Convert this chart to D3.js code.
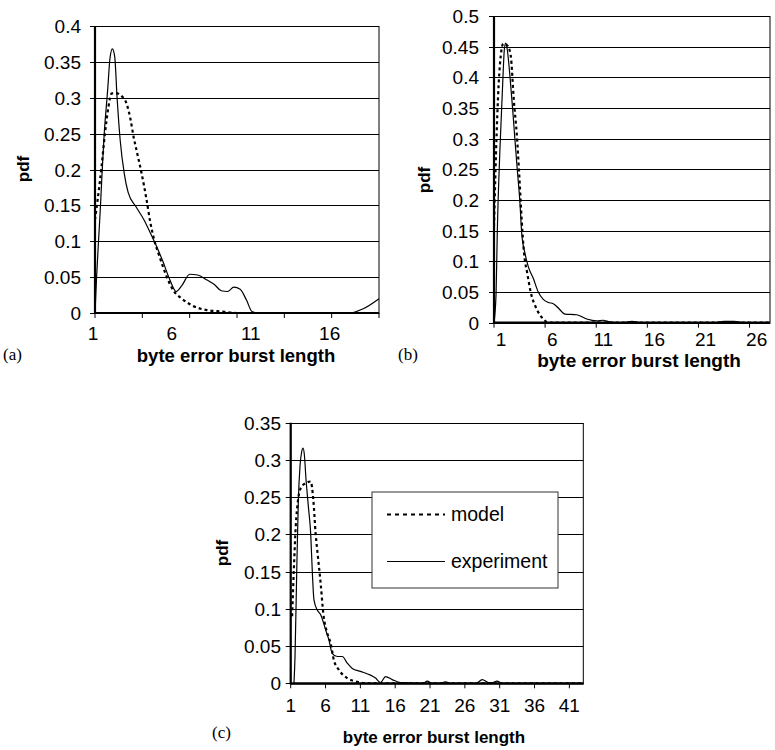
<!DOCTYPE html>
<html>
<head>
<meta charset="utf-8">
<script src="https://cdnjs.cloudflare.com/ajax/libs/d3/7.8.5/d3.min.js"></script>
<style>
  body { margin: 0; background: #fff; }
  svg { display: block; }
  text { font-family: "Liberation Sans", Arial, sans-serif; fill: #000; }
</style>
</head>
<body>
<div id="chart"></div>
<script>
// ---- panel (a) data ----
const aModelX = [1, 1.15, 1.42, 1.63, 1.85, 2.06, 2.4, 2.7, 3.0, 3.25, 3.45, 3.65, 3.95, 4.25, 4.5, 4.75, 5.1, 5.5, 5.95, 6.5, 7.2, 8.1, 9.1, 10, 19];
const aModelY = [0.13, 0.155, 0.205, 0.25, 0.287, 0.306, 0.306, 0.302, 0.292, 0.27, 0.245, 0.225, 0.195, 0.16, 0.127, 0.102, 0.078, 0.053, 0.032, 0.02, 0.01, 0.004, 0.002, 0, 0];
const aExpX = [1, 1.1, 1.3, 1.6, 1.8, 1.95, 2.1, 2.25, 2.4, 2.6, 2.85, 3.1, 3.6, 4.1, 4.5, 4.9, 5.3, 5.75, 6.15, 6.5, 7.0, 7.5, 8.1, 8.6, 9.0, 9.4, 9.8, 10.2, 10.6, 10.95, 11.3, 17.1, 18, 19];
const aExpY = [0, 0.05, 0.13, 0.255, 0.31, 0.355, 0.368, 0.357, 0.3, 0.24, 0.195, 0.168, 0.148, 0.13, 0.112, 0.093, 0.072, 0.046, 0.03, 0.038, 0.054, 0.053, 0.046, 0.039, 0.031, 0.03, 0.036, 0.033, 0.018, 0.002, 0, 0, 0.006, 0.02];
const aYTicks = [0, 0.05, 0.1, 0.15, 0.2, 0.25, 0.3, 0.35, 0.4];
const aXLabels = [1, 6, 11, 16];
const aXTickMarks = [1, 4, 7, 10, 13, 16, 19];

// ---- panel (b) data ----
const bModelX = [0.5, 0.76, 1.02, 1.41, 1.8, 2.13, 2.46, 2.72, 2.98, 3.21, 3.44, 3.76, 4.09, 4.68, 5.32, 5.81, 27.5];
const bModelY = [0.157, 0.309, 0.407, 0.455, 0.452, 0.436, 0.358, 0.309, 0.238, 0.167, 0.113, 0.08, 0.05, 0.022, 0.006, 0, 0];
const bExpX = [0.5, 0.7, 0.82, 1.09, 1.35, 1.51, 1.64, 1.8, 2.07, 2.33, 2.55, 2.78, 3.04, 3.21, 3.53, 3.86, 4.35, 4.83, 5.32, 5.81, 6.3, 6.79, 7.45, 8.59, 9.57, 10.55, 11.17, 11.85, 13, 14, 15, 22, 23, 24, 25, 27.5];
const bExpY = [0, 0.046, 0.146, 0.287, 0.39, 0.445, 0.456, 0.445, 0.4, 0.347, 0.298, 0.249, 0.195, 0.146, 0.113, 0.091, 0.072, 0.05, 0.038, 0.033, 0.031, 0.024, 0.014, 0.013, 0.006, 0.003, 0.004, 0.001, 0, 0.002, 0, 0, 0.002, 0.002, 0, 0];
const bYTicks = [0, 0.05, 0.1, 0.15, 0.2, 0.25, 0.3, 0.35, 0.4, 0.45, 0.5];
const bXLabels = [1, 6, 11, 16, 21, 26];
const bXTickMarks = [0.5, 5.5, 10.5, 15.5, 20.5, 25.5];

// ---- panel (c) data ----
const cModelX = [1.2, 1.47, 1.72, 2.05, 2.43, 3.0, 3.87, 4.25, 4.58, 4.91, 5.3, 5.68, 6.26, 6.73, 7.2, 7.92, 9.12, 10.56, 12, 43];
const cModelY = [0.09, 0.157, 0.21, 0.246, 0.262, 0.268, 0.271, 0.246, 0.201, 0.17, 0.134, 0.094, 0.067, 0.054, 0.031, 0.018, 0.007, 0.002, 0, 0];
const cExpX = [1.47, 1.62, 1.86, 2.1, 2.33, 2.58, 2.76, 2.96, 3.19, 3.54, 3.87, 4.11, 4.34, 4.83, 5.3, 6.01, 6.49, 6.97, 7.69, 8.41, 9.12, 9.84, 11.03, 12.46, 13.18, 13.9, 14.61, 15.57, 16.76, 20, 20.6, 21.3, 22.5, 23.2, 24, 27.6, 28.5, 29.4, 30, 30.6, 31.4, 33, 43];
const cExpY = [0, 0.036, 0.148, 0.246, 0.291, 0.311, 0.316, 0.307, 0.275, 0.237, 0.201, 0.148, 0.112, 0.098, 0.092, 0.072, 0.058, 0.04, 0.036, 0.036, 0.027, 0.02, 0.016, 0.011, 0.007, 0.001, 0.009, 0.005, 0.001, 0, 0.003, 0, 0, 0.002, 0, 0, 0.005, 0.001, 0.001, 0.003, 0, 0, 0];
const cYTicks = [0, 0.05, 0.1, 0.15, 0.2, 0.25, 0.3, 0.35];
const cXLabels = [1, 6, 11, 16, 21, 26, 31, 36, 41];
const cXTickMarks = [1, 6, 11, 16, 21, 26, 31, 36, 41];

const seriesNames = ['model', 'experiment'];

const svg = d3.select('#chart').append('svg')
  .attr('width', 775)
  .attr('height', 750);

function drawPanel(p) {
  const x = d3.scaleLinear().domain(p.xDomain).range([p.left, p.right]);
  const y = d3.scaleLinear().domain([0, p.yMax]).range([p.bottom, p.top]);
  const g = svg.append('g');
  const clipId = 'clip-' + p.tag;

  g.append('clipPath').attr('id', clipId)
    .append('rect')
    .attr('x', p.left).attr('y', p.top - 2)
    .attr('width', p.right - p.left + 1).attr('height', p.bottom - p.top + 2);

  // horizontal gridlines
  g.selectAll('line.grid').data(p.yTicks).join('line')
    .attr('x1', p.left).attr('x2', p.right)
    .attr('y1', d => Math.round(y(d)) + 0.5).attr('y2', d => Math.round(y(d)) + 0.5)
    .attr('stroke', '#000').attr('stroke-width', 1);

  // plot frame
  g.append('rect')
    .attr('x', p.left).attr('y', Math.round(p.top) + 0.5)
    .attr('width', p.right - p.left).attr('height', p.bottom - p.top)
    .attr('fill', 'none').attr('stroke', '#000').attr('stroke-width', 1);

  // y tick marks and labels
  g.selectAll('line.ytick').data(p.yTicks).join('line')
    .attr('x1', p.left - 5).attr('x2', p.left)
    .attr('y1', d => Math.round(y(d)) + 0.5).attr('y2', d => Math.round(y(d)) + 0.5)
    .attr('stroke', '#000');
  g.selectAll('text.ylab').data(p.yTicks).join('text')
    .attr('x', p.yLabelRight).attr('y', d => y(d) + 7)
    .attr('text-anchor', 'end')
    .attr('font-size', p.tickFont)
    .text(d => d3.format('')(+d.toFixed(2)));

  // x tick marks and labels
  g.selectAll('line.xtick').data(p.xTickMarks).join('line')
    .attr('x1', d => x(d)).attr('x2', d => x(d))
    .attr('y1', p.bottom).attr('y2', p.bottom + 5)
    .attr('stroke', '#000');
  g.selectAll('text.xlab').data(p.xLabels).join('text')
    .attr('x', d => x(d) + p.xLabelShift).attr('y', p.bottom + p.xLabelDy)
    .attr('text-anchor', 'middle')
    .attr('font-size', p.tickFont)
    .text(d => d);

  // series
  const line = d3.line()
    .x(d => x(d[0]))
    .y(d => y(d[1]))
    .curve(d3.curveMonotoneX);

  const modelPts = p.modelX.map((v, i) => [v, p.modelY[i]]);
  const expPts = p.expX.map((v, i) => [v, p.expY[i]]);

  g.append('path')
    .datum(expPts)
    .attr('clip-path', `url(#${clipId})`)
    .attr('fill', 'none')
    .attr('stroke', '#000')
    .attr('stroke-width', 1.2)
    .attr('d', line);

  g.append('path')
    .datum(modelPts)
    .attr('clip-path', `url(#${clipId})`)
    .attr('fill', 'none')
    .attr('stroke', '#000')
    .attr('stroke-width', 2.2)
    .attr('stroke-dasharray', '3,3')
    .attr('d', line);

  // thick axis lines
  g.append('line')
    .attr('x1', p.left).attr('x2', p.left)
    .attr('y1', p.top).attr('y2', p.bottom + 1)
    .attr('stroke', '#000').attr('stroke-width', 2.2);
  g.append('line')
    .attr('x1', p.left).attr('x2', p.right)
    .attr('y1', p.bottom).attr('y2', p.bottom)
    .attr('stroke', '#000').attr('stroke-width', 2.2);

  // axis titles
  g.append('text')
    .attr('transform', `translate(${p.pdfX},${p.pdfY}) rotate(-90)`)
    .attr('text-anchor', 'middle')
    .attr('font-size', 17).attr('font-weight', 'bold')
    .text('pdf');
  g.append('text')
    .attr('x', p.titleX).attr('y', p.titleY)
    .attr('text-anchor', 'middle')
    .attr('font-size', p.titleFont).attr('font-weight', 'bold')
    .text('byte error burst length');
  g.append('text')
    .attr('x', p.tagX).attr('y', p.tagY)
    .style('font-family', '"Liberation Serif", "Times New Roman", serif')
    .attr('font-size', 17)
    .text(`(${p.tag})`);

  return { x, y, g };
}

drawPanel({
  tag: 'a', left: 95, right: 379, top: 26, bottom: 313,
  xDomain: [1, 19], yMax: 0.4, yTicks: aYTicks,
  xLabels: aXLabels, xTickMarks: aXTickMarks, xLabelShift: -2, xLabelDy: 27,
  yLabelRight: 81, tickFont: 19, titleFont: 18.5,
  modelX: aModelX, modelY: aModelY, expX: aExpX, expY: aExpY,
  pdfX: 29, pdfY: 169, titleX: 236, titleY: 362, tagX: 3, tagY: 360
});

drawPanel({
  tag: 'b', left: 494, right: 770, top: 16, bottom: 322.7,
  xDomain: [0.5, 27.5], yMax: 0.5, yTicks: bYTicks,
  xLabels: bXLabels, xTickMarks: bXTickMarks, xLabelShift: 2, xLabelDy: 23,
  yLabelRight: 479, tickFont: 19, titleFont: 19,
  modelX: bModelX, modelY: bModelY, expX: bExpX, expY: bExpY,
  pdfX: 430, pdfY: 180, titleX: 639, titleY: 367, tagX: 398, tagY: 360
});

const c = drawPanel({
  tag: 'c', left: 290.7, right: 583.3, top: 422.7, bottom: 683.3,
  xDomain: [1, 43], yMax: 0.35, yTicks: cYTicks,
  xLabels: cXLabels, xTickMarks: cXTickMarks, xLabelShift: 0, xLabelDy: 29,
  yLabelRight: 281, tickFont: 19, titleFont: 17,
  modelX: cModelX, modelY: cModelY, expX: cExpX, expY: cExpY,
  pdfX: 228, pdfY: 553, titleX: 434, titleY: 743, tagX: 212, tagY: 738
});

// legend in panel (c)
const legend = c.g.append('g');
legend.append('rect')
  .attr('x', 372).attr('y', 492)
  .attr('width', 186).attr('height', 96)
  .attr('fill', '#fff').attr('stroke', '#333').attr('stroke-width', 1);
legend.selectAll('line.leg').data(seriesNames).join('line')
  .attr('x1', 387).attr('x2', 445)
  .attr('y1', (d, i) => 514.5 + i * 47).attr('y2', (d, i) => 514.5 + i * 47)
  .attr('stroke', '#000')
  .attr('stroke-width', (d, i) => i === 0 ? 2 : 1.2)
  .attr('stroke-dasharray', (d, i) => i === 0 ? '4,4' : null);
legend.selectAll('text.leg').data(seriesNames).join('text')
  .attr('x', 451).attr('y', (d, i) => 521 + i * 47)
  .attr('font-size', 19.5)
  .text(d => d);
</script>
</body>
</html>
